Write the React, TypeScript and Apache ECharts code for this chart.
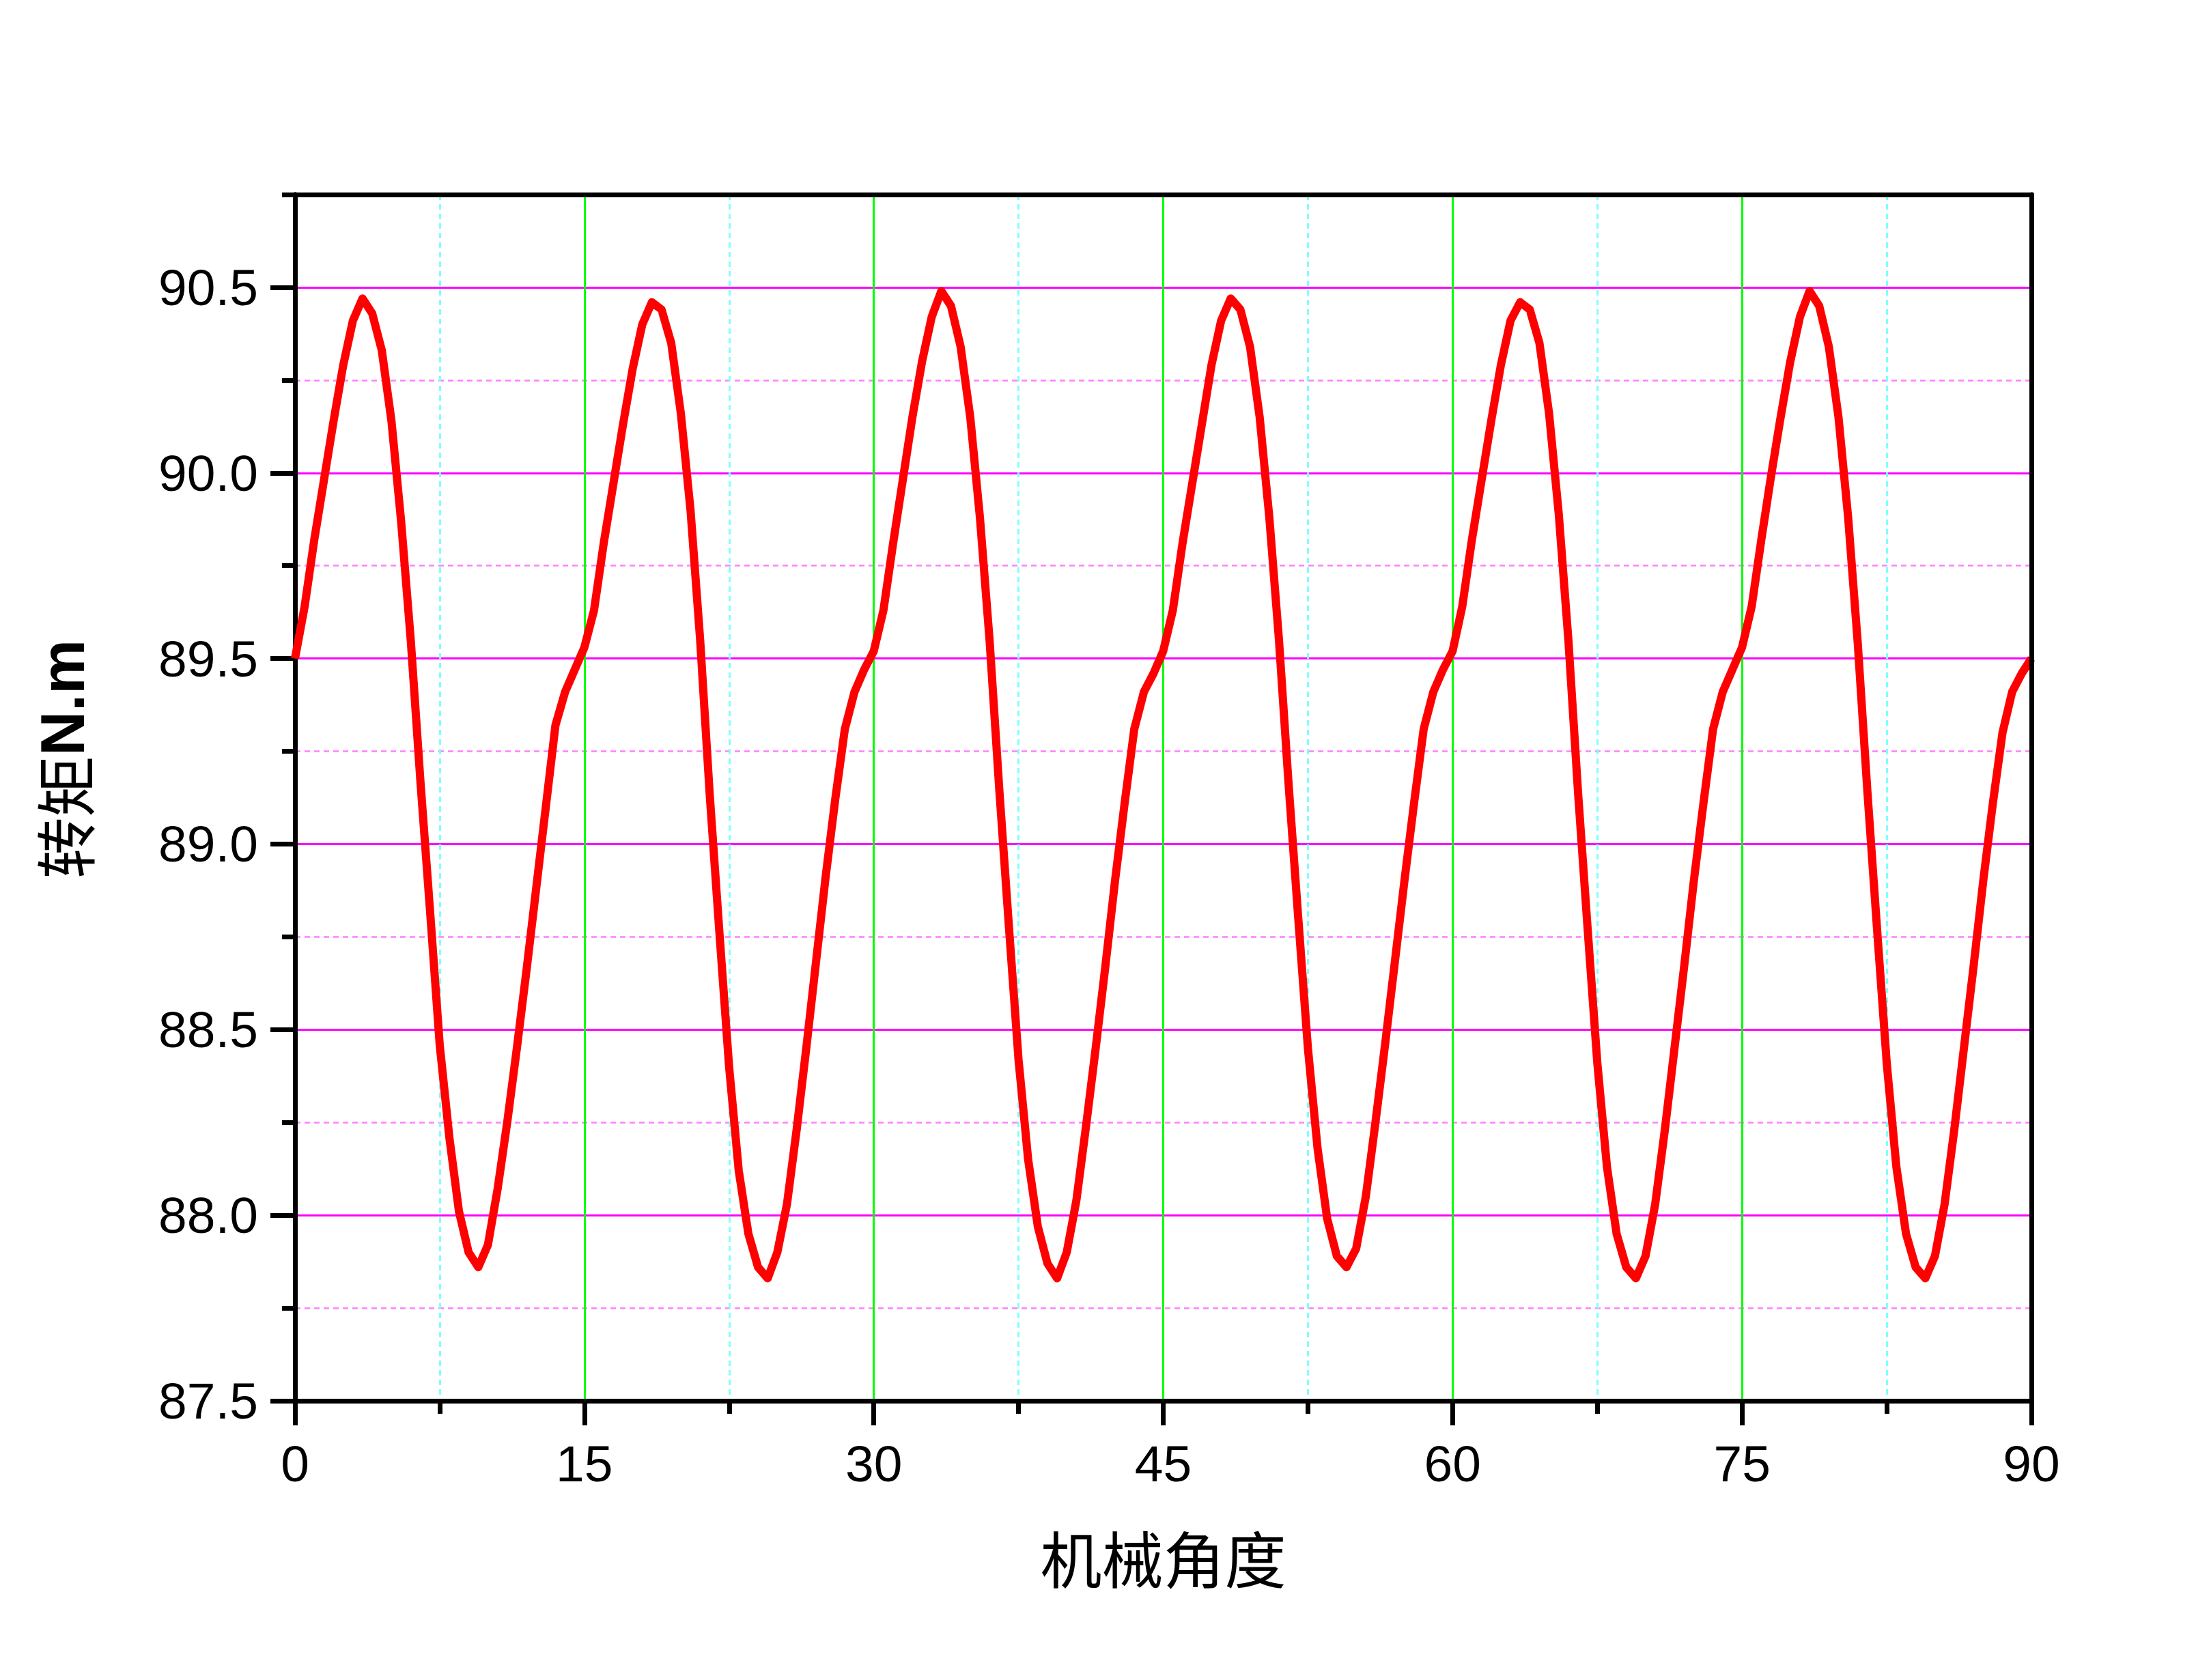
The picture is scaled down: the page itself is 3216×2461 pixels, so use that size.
import React, { useEffect, useRef } from "react";
import * as echarts from "echarts";

// Mechanical angle sampling (degrees)
const ANGLE_START = 0;
const ANGLE_STEP = 0.5;

// Torque (N.m), one array per 15-degree electrical period
const period1 = [89.50, 89.64, 89.82, 89.98, 90.14, 90.29, 90.41, 90.47, 90.43, 90.33, 90.14, 89.87, 89.55, 89.17, 88.82, 88.46, 88.21, 88.01, 87.90, 87.86, 87.92, 88.07, 88.25, 88.45, 88.66, 88.88, 89.10, 89.32, 89.41, 89.47];
const period2 = [89.53, 89.63, 89.81, 89.97, 90.13, 90.28, 90.40, 90.46, 90.44, 90.35, 90.16, 89.90, 89.55, 89.13, 88.76, 88.40, 88.12, 87.95, 87.86, 87.83, 87.90, 88.03, 88.23, 88.45, 88.68, 88.91, 89.12, 89.31, 89.41, 89.47];
const period3 = [89.52, 89.63, 89.81, 89.98, 90.15, 90.30, 90.42, 90.49, 90.45, 90.34, 90.15, 89.88, 89.55, 89.15, 88.78, 88.42, 88.15, 87.97, 87.87, 87.83, 87.90, 88.04, 88.24, 88.45, 88.67, 88.90, 89.11, 89.31, 89.41, 89.46];
const period4 = [89.52, 89.63, 89.81, 89.97, 90.13, 90.29, 90.41, 90.47, 90.44, 90.34, 90.15, 89.88, 89.55, 89.16, 88.80, 88.45, 88.18, 87.99, 87.89, 87.86, 87.91, 88.05, 88.25, 88.46, 88.68, 88.90, 89.11, 89.31, 89.41, 89.47];
const period5 = [89.52, 89.64, 89.82, 89.98, 90.14, 90.29, 90.41, 90.46, 90.44, 90.35, 90.16, 89.89, 89.55, 89.14, 88.77, 88.41, 88.13, 87.95, 87.86, 87.83, 87.89, 88.03, 88.23, 88.45, 88.67, 88.90, 89.11, 89.31, 89.41, 89.47];
const period6 = [89.53, 89.64, 89.82, 89.99, 90.15, 90.30, 90.42, 90.49, 90.45, 90.34, 90.15, 89.88, 89.54, 89.14, 88.77, 88.41, 88.13, 87.95, 87.86, 87.83, 87.89, 88.03, 88.23, 88.45, 88.67, 88.90, 89.11, 89.30, 89.41, 89.46];
const lastPoint = [89.50];

// Axis ranges and ticks
const X_MIN = 0;
const X_MAX = 90;
const X_INTERVAL = 15;
const Y_MIN = 87.5;
const Y_MAX = 90.75;
const Y_MAJOR = 0.5;
const Y_MINOR = 0.25;
const Y_LABELS = [87.5, 88.0, 88.5, 89.0, 89.5, 90.0, 90.5];

const X_NAME = "机械角度";
const Y_NAME_CN = "转矩";
const Y_NAME_UNIT = "N.m";

export default function App() {
  const ref = useRef<HTMLDivElement>(null);

  useEffect(() => {
    document.body.style.margin = "0";
    document.body.style.overflow = "hidden";
    const el = ref.current!;
    const chart = echarts.init(el, null, { renderer: "svg", width: 3216, height: 2461 });

    const torque = [...period1, ...period2, ...period3, ...period4, ...period5, ...period6, ...lastPoint];
    const data = torque.map((v, i) => [ANGLE_START + i * ANGLE_STEP, v]);

    const black = "#000000";
    const labelFont = "Liberation Sans, Arial, sans-serif";

    chart.setOption({
      animation: false,
      backgroundColor: "#ffffff",
      grid: { left: 432, right: 241, top: 285, bottom: 409, show: false },
      xAxis: [
        {
          type: "value",
          min: X_MIN,
          max: X_MAX,
          interval: X_INTERVAL,
          position: "bottom",
          z: 1,
          axisLine: { show: true, onZero: false, lineStyle: { color: black, width: 7 } },
          axisTick: { show: true, inside: false, length: 36, lineStyle: { color: black, width: 7 } },
          minorTick: { show: true, splitNumber: 2, length: 19, lineStyle: { color: black, width: 7 } },
          axisLabel: { show: true, margin: 54, fontSize: 75, fontFamily: labelFont, color: black },
          splitLine: { show: true, lineStyle: { color: "#00FF00", width: 3 } },
          minorSplitLine: { show: true, lineStyle: { color: "#80FFFF", width: 3, type: [8, 6] } },
          name: X_NAME,
          nameLocation: "middle",
          nameGap: 183,
          nameTextStyle: { fontSize: 90, fontFamily: "Noto Sans CJK SC", color: black },
        },
        {
          type: "value",
          min: X_MIN,
          max: X_MAX,
          position: "top",
          z: 3,
          axisLine: { show: true, onZero: false, lineStyle: { color: black, width: 7 } },
          axisTick: { show: false },
          axisLabel: { show: false },
          splitLine: { show: false },
        },
      ],
      yAxis: [
        {
          type: "value",
          min: Y_MIN,
          max: Y_MAX,
          interval: Y_MINOR,
          position: "left",
          z: 0,
          axisLine: { show: true, onZero: false, lineStyle: { color: black, width: 7 } },
          axisTick: { show: true, inside: false, length: 19, lineStyle: { color: black, width: 7 } },
          axisLabel: { show: false },
          splitLine: { show: true, lineStyle: { color: "#FF80FF", width: 2.5, type: [8, 6] } },
        },
        {
          type: "value",
          min: Y_MIN,
          max: Y_MAX,
          interval: Y_MAJOR,
          position: "left",
          z: 1,
          axisLine: { show: true, onZero: false, lineStyle: { color: black, width: 7 } },
          axisTick: {
            show: true,
            inside: false,
            length: 36,
            customValues: Y_LABELS,
            lineStyle: { color: black, width: 7 },
          },
          axisLabel: {
            show: true,
            customValues: Y_LABELS,
            margin: 54,
            fontSize: 75,
            fontFamily: labelFont,
            color: black,
            formatter: (v: number) => v.toFixed(1),
          },
          splitLine: { show: true, lineStyle: { color: "#FF00FF", width: 3 } },
        },
        {
          type: "value",
          min: Y_MIN,
          max: Y_MAX,
          position: "right",
          z: 3,
          axisLine: { show: true, onZero: false, lineStyle: { color: black, width: 7 } },
          axisTick: { show: false },
          axisLabel: { show: false },
          splitLine: { show: false },
        },
      ],
      graphic: [
        {
          type: "text",
          x: 92,
          y: 1112,
          rotation: Math.PI / 2,
          style: {
            text: "{a|" + Y_NAME_CN + "}{b|" + Y_NAME_UNIT + "}",
            align: "center",
            verticalAlign: "middle",
            rich: {
              a: { fontSize: 90, fontFamily: "Noto Sans CJK SC", fill: black },
              b: { fontSize: 90, fontWeight: "bold", fontFamily: labelFont, fill: black },
            },
          },
        },
      ],
      series: [
        {
          type: "line",
          xAxisIndex: 0,
          yAxisIndex: 1,
          data,
          showSymbol: false,
          symbol: "none",
          z: 2,
          lineStyle: { color: "#FF0000", width: 12, join: "round" },
        },
      ],
    });

    return () => chart.dispose();
  }, []);

  return <div ref={ref} style={{ width: 3216, height: 2461 }} />;
}
